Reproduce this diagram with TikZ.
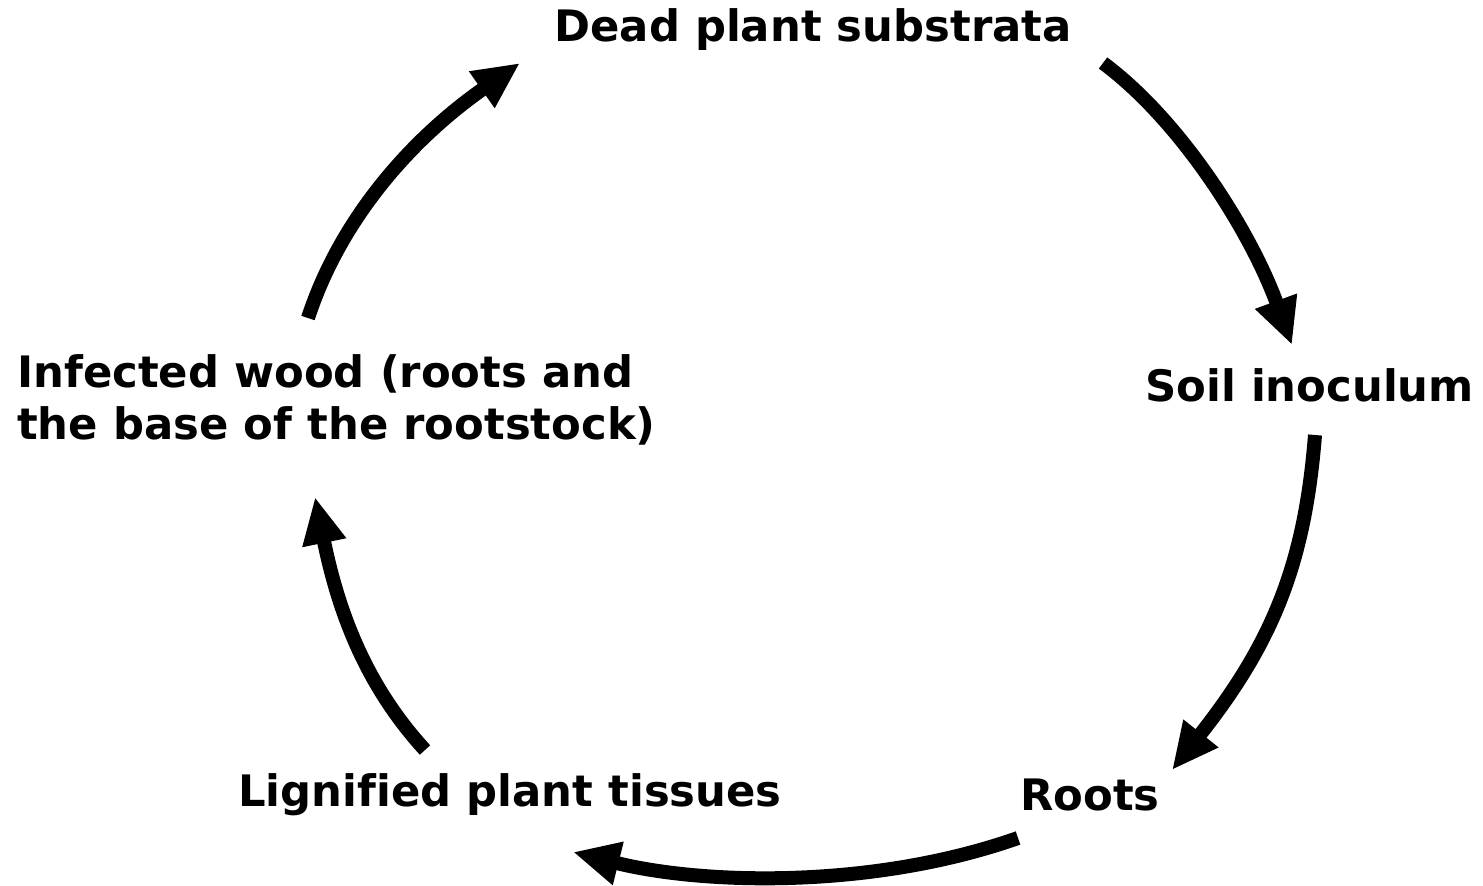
\documentclass[tikz,border=0pt]{standalone}
\usepackage{fontspec}
\setmainfont[Ligatures={NoCommon}]{DejaVu Sans}
\usetikzlibrary{arrows.meta}
\begin{document}
\begin{tikzpicture}[x=0.75pt,y=-0.75pt,
  lbl/.style={font=\bfseries\fontsize{32.5}{39}\selectfont,inner sep=0pt},
  cyc/.style={line width=10.5pt,-{Triangle[length=35pt,width=31pt]}}]
\useasboundingbox (0,0) rectangle (1483,885);
\node[lbl] (dead) at (813,30) {Dead plant substrata};
\node[lbl,anchor=west] (soil) at (1145,385) {Soil inoculum};
\node[lbl] (roots) at (1090,795) {Roots};
\node[lbl] (lig) at (510,795) {Lignified plant tissues};
\node[lbl,anchor=west,align=left] (inf) at (17,400) {Infected wood (roots and\\the base of the rootstock)};
\coordinate (a1s) at (1103,63); \coordinate (a1e) at (1292,345);
\coordinate (a2s) at (1315,435); \coordinate (a2e) at (1172,770);
\coordinate (a3s) at (1018,838); \coordinate (a3e) at (573,852);
\coordinate (a4s) at (425,750); \coordinate (a4e) at (315,497);
\coordinate (a5s) at (308,318); \coordinate (a5e) at (520,63);
\draw[cyc] (a1s) .. controls (1180,120) and (1250,230) .. (a1e);
\draw[cyc] (a2s) .. controls (1305,560) and (1275,640) .. (a2e);
\draw[cyc] (a3s) .. controls (870,890) and (700,884) .. (a3e);
\draw[cyc] (a4s) .. controls (370,690) and (340,620) .. (a4e);
\draw[cyc] (a5s) .. controls (340,220) and (410,140) .. (a5e);
\end{tikzpicture}
\end{document}
